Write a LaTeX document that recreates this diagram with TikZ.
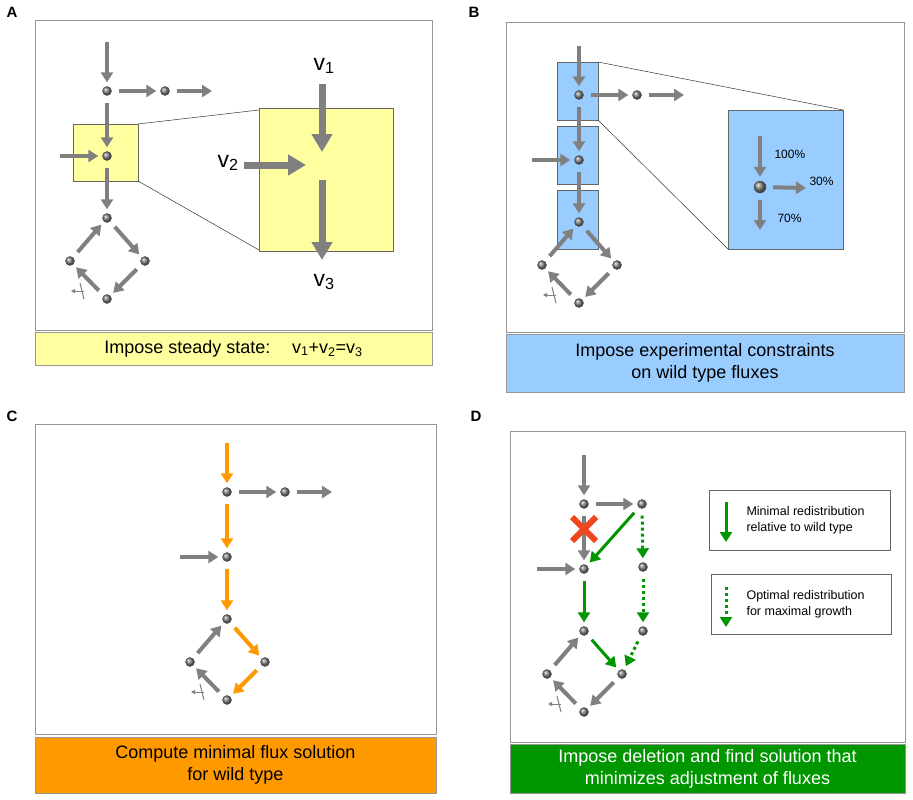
\documentclass[tikz,border=0pt]{standalone}
\usepackage{fontspec}
\setmainfont{Liberation Sans}
\usetikzlibrary{arrows.meta}
\definecolor{ag}{RGB}{128,128,128}
\definecolor{fr}{RGB}{150,150,150}
\definecolor{yel}{RGB}{255,255,160}
\definecolor{blu}{RGB}{153,204,255}
\definecolor{ora}{RGB}{255,153,0}
\definecolor{grn}{RGB}{0,150,0}
\definecolor{xred}{RGB}{240,70,30}
\newcommand{\netnodes}[3]{%
  \begin{scope}[shift={(#2,#3)}]
  \coordinate (#1in) at (107,42);
  \node[dot] (#11) at (107,91) {};
  \node[dot] (#12) at (165,91) {};
  \coordinate (#12out) at (212,91);
  \node[dot] (#13) at (107,156) {};
  \coordinate (#13in) at (60,156);
  \node[dot] (#14) at (107,218) {};
  \node[dot] (#15) at (70,261) {};
  \node[dot] (#16) at (145,261) {};
  \node[dot] (#17) at (107,299) {};
  \coordinate (#1m1) at (80,283);
  \coordinate (#1m2) at (84,299);
  \coordinate (#1m3) at (84,291);
  \coordinate (#1m4) at (71,291);
  \end{scope}}
\begin{document}
\begin{tikzpicture}[x=1pt,y=-1pt,
  dot/.style={circle,inner sep=0,minimum size=9pt,ball color=black!50,draw=black!70,line width=0.4pt},
  fl/.style={draw=ag,line width=4pt,-{Triangle[length=10pt,width=12pt]},shorten <=7pt,shorten >=4pt},
  bigfl/.style={draw=ag,line width=7pt,-{Triangle[length=18pt,width=20pt]}},
  thinm/.style={draw=ag,line width=1pt},
  frame/.style={draw=fr,line width=0.8pt,fill=white},
  capbox/.style={draw=fr,line width=0.8pt},
  lab/.style={font=\bfseries\fontsize{15}{15}\selectfont},
  captxt/.style={font=\fontsize{18}{22}\selectfont,align=center},
  zl/.style={draw=black!80,line width=0.5pt}]
\useasboundingbox (0,0) rectangle (913,800);
% ---------- A ----------
\node[lab] (LA) at (12,12) {A};
\draw[frame] (35,20) rectangle (432,330);
\draw[capbox,fill=yel] (35,332) rectangle (432,365);
\node[captxt] (CA) at (233.5,348.5) {Impose steady state:\hspace{1.2em}v\textsubscript{1}+v\textsubscript{2}=v\textsubscript{3}};
\draw[draw=black!60,fill=yel,line width=0.6pt] (73,124) rectangle (138,181);
\draw[draw=black!60,fill=yel,line width=0.6pt] (259,108) rectangle (393,251);
\draw[zl] (138,124) -- (259,110);
\draw[zl] (138,181) -- (259,250);
\netnodes{a}{0}{0}
\draw[fl,shorten <=0pt] (ain) -- (a1);
\draw[fl] (a1) -- (a2);
\draw[fl,shorten >=0pt] (a2) -- (a2out);
\draw[fl] (a1) -- (a3);
\draw[fl,shorten <=0pt] (a3in) -- (a3);
\draw[fl] (a3) -- (a4);
\draw[fl] (a4) -- (a6);
\draw[fl] (a6) -- (a7);
\draw[fl] (a7) -- (a5);
\draw[fl] (a5) -- (a4);
\draw[thinm] (am1) -- (am2);
\draw[thinm,-{Triangle[length=4pt,width=4pt]}] (am3) -- (am4);
\node[font=\fontsize{23}{23}\selectfont] (v1) at (324,66) {v\textsubscript{1}};
\coordinate (v1a) at (322,84); \coordinate (v1b) at (322,152);
\draw[bigfl] (v1a) -- (v1b);
\node[font=\fontsize{23}{23}\selectfont] (v2) at (228,163) {v\textsubscript{2}};
\coordinate (v2a) at (244,165); \coordinate (v2b) at (306,165);
\draw[bigfl] (v2a) -- (v2b);
\coordinate (v3a) at (322,180); \coordinate (v3b) at (322,260);
\draw[bigfl] (v3a) -- (v3b);
\node[font=\fontsize{23}{23}\selectfont] (v3) at (324,282) {v\textsubscript{3}};
% ---------- B ----------
\node[lab] (LB) at (474,12) {B};
\draw[frame] (506,22) rectangle (904,332);
\draw[capbox,fill=blu] (506,334) rectangle (904,392);
\node[captxt] (CB) at (705,363) {Impose experimental constraints\\on wild type fluxes};
\foreach \ya/\yb in {62/120,126/184,190/249}
  \draw[draw=black!60,fill=blu,line width=0.6pt] (557,\ya) rectangle (598,\yb);
\draw[draw=black!60,fill=blu,line width=0.6pt] (728,110) rectangle (843,249);
\draw[zl] (598,62) -- (843,110);
\draw[zl] (598,120) -- (728,249);
\netnodes{b}{472}{4}
\draw[fl,shorten <=0pt] (bin) -- (b1);
\draw[fl] (b1) -- (b2);
\draw[fl,shorten >=0pt] (b2) -- (b2out);
\draw[fl] (b1) -- (b3);
\draw[fl,shorten <=0pt] (b3in) -- (b3);
\draw[fl] (b3) -- (b4);
\draw[fl] (b4) -- (b6);
\draw[fl] (b6) -- (b7);
\draw[fl] (b7) -- (b5);
\draw[fl] (b5) -- (b4);
\draw[thinm] (bm1) -- (bm2);
\draw[thinm,-{Triangle[length=4pt,width=4pt]}] (bm3) -- (bm4);
\node[dot,minimum size=12pt] (bz) at (760,187) {};
\coordinate (bzin) at (760,136); \coordinate (bzr) at (806,188); \coordinate (bzd) at (760,230);
\draw[fl,shorten <=0pt] (bzin) -- (bz);
\draw[fl,shorten >=0pt] (bz) -- (bzr);
\draw[fl,shorten >=0pt] (bz) -- (bzd);
\node[font=\fontsize{12}{12}\selectfont,anchor=west] (p100) at (771,154) {100\%};
\node[font=\fontsize{12}{12}\selectfont,anchor=west] (p30) at (806,181) {30\%};
\node[font=\fontsize{12}{12}\selectfont,anchor=west] (p70) at (774,218) {70\%};
% ---------- C ----------
\node[lab] (LC) at (12,416) {C};
\draw[frame] (35,424) rectangle (436,734);
\draw[capbox,fill=ora] (35,737) rectangle (436,793);
\node[captxt] (CC) at (235.5,765) {Compute minimal flux solution\\for wild type};
\netnodes{c}{120}{401}
\begin{scope}[fl/.append style={draw=ora}]
\draw[fl,shorten <=0pt] (cin) -- (c1);
\draw[fl] (c1) -- (c3);
\draw[fl] (c3) -- (c4);
\draw[fl] (c4) -- (c6);
\draw[fl] (c6) -- (c7);
\end{scope}
\draw[fl] (c1) -- (c2);
\draw[fl,shorten >=0pt] (c2) -- (c2out);
\draw[fl,shorten <=0pt] (c3in) -- (c3);
\draw[fl] (c7) -- (c5);
\draw[fl] (c5) -- (c4);
\draw[thinm] (cm1) -- (cm2);
\draw[thinm,-{Triangle[length=4pt,width=4pt]}] (cm3) -- (cm4);
% ---------- D ----------
\node[lab] (LD) at (476,416) {D};
\draw[frame] (510,431) rectangle (905,742);
\draw[capbox,fill=grn] (510,744) rectangle (905,793);
\node[captxt,text=white] (CD) at (707.5,768.5) {Impose deletion and find solution that\\minimizes adjustment of fluxes};
\netnodes{d}{477}{413}
\node[dot] (d8) at (643,567) {};
\node[dot] (d9) at (643,631) {};
\draw[fl,shorten <=0pt] (din) -- (d1);
\draw[fl] (d1) -- (d2);
\draw[fl] (d1) -- (d3);
\draw[fl,shorten <=0pt] (d3in) -- (d3);
\draw[fl] (d6) -- (d7);
\draw[fl] (d7) -- (d5);
\draw[fl] (d5) -- (d4);
\draw[thinm] (dm1) -- (dm2);
\draw[thinm,-{Triangle[length=4pt,width=4pt]}] (dm3) -- (dm4);
\begin{scope}[fl/.append style={draw=grn,line width=3pt}]
\draw[fl] (d2) -- (d3);
\draw[fl] (d3) -- (d4);
\draw[fl] (d4) -- (d6);
\draw[fl,dash pattern=on 3pt off 3pt] (d2) -- (d8);
\draw[fl,dash pattern=on 3pt off 3pt] (d8) -- (d9);
\draw[fl,dash pattern=on 3pt off 3pt] (d9) -- (d6);
\end{scope}
\coordinate (x1) at (572,517); \coordinate (x2) at (596,541);
\coordinate (x3) at (596,517); \coordinate (x4) at (572,541);
\draw[xred,line width=6pt] (x1) -- (x2);
\draw[xred,line width=6pt] (x3) -- (x4);
\draw[draw=black!60,line width=0.6pt] (709,490) rectangle (890,550);
\draw[draw=black!60,line width=0.6pt] (711,574) rectangle (891,634);
\coordinate (l1a) at (726,502); \coordinate (l1b) at (726,542);
\draw[fl,draw=grn,line width=3pt,shorten <=0pt,shorten >=0pt] (l1a) -- (l1b);
\coordinate (l2a) at (726,587); \coordinate (l2b) at (726,627);
\draw[fl,draw=grn,line width=3pt,dash pattern=on 3pt off 3pt,shorten <=0pt,shorten >=0pt] (l2a) -- (l2b);
\node[font=\fontsize{12.5}{16}\selectfont,align=left,anchor=west] (leg1) at (743,520) {Minimal redistribution\\relative to wild type};
\node[font=\fontsize{12.5}{16}\selectfont,align=left,anchor=west] (leg2) at (743,604) {Optimal redistribution\\for maximal growth};
\end{tikzpicture}
\end{document}
